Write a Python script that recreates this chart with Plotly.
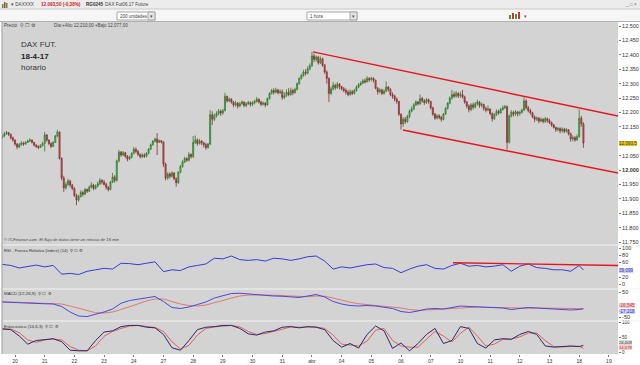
import plotly.graph_objects as go

# ---------------- DATA ----------------
day_tick_labels = ["20", "21", "22", "23", "24", "27", "28", "29", "30", "31", "abr",
                   "04", "05", "06", "07", "10", "11", "12", "13", "18", "19"]
bars_per_day = 14
first_bar = -6          # last bars of 17 mar
first_open = 12112

close_px = [
    # 17 mar
    12118, 12126, 12130, 12124, 12112, 12104,
    # 20 mar
    12090, 12080, 12088, 12094, 12090, 12096, 12100, 12104, 12096, 12086, 12082, 12078, 12084, 12092,
    # 21 mar
    12122, 12104, 12092, 12082, 12096, 12118, 12132, 12040, 11972, 11938, 11950, 11962, 11948, 11936,
    # 22 mar
    11912, 11896, 11908, 11922, 11916, 11932, 11926, 11940, 11948, 11936, 11944, 11952, 11964, 11958,
    # 23 mar
    11950, 11940, 11932, 11958, 11976, 11964, 12032, 12062, 12052, 12060, 12048, 12038, 12044, 12058,
    # 24 mar
    12072, 12064, 12054, 12046, 12052, 12048, 12058, 12072, 12088, 12100, 12108, 12096, 12102, 12098,
    # 27 mar
    12020, 11972, 11986, 11978, 11990, 11970, 11956, 11992, 12012, 12028, 12040, 12034, 12054, 12046,
    # 28 mar
    12096, 12104, 12092, 12100, 12094, 12088, 12078, 12090, 12192, 12176, 12188, 12196, 12204, 12198,
    # 29 mar
    12206, 12256, 12240, 12246, 12236, 12226, 12232, 12222, 12230, 12236, 12224, 12230, 12234, 12228,
    # 30 mar
    12234, 12238, 12246, 12236, 12228, 12232, 12226, 12248, 12266, 12276, 12270, 12278, 12268, 12272,
    # 31 mar
    12252, 12258, 12270, 12262, 12276, 12268, 12280, 12300, 12318, 12328, 12340, 12336, 12352, 12362,
    # 03 abr
    12396, 12384, 12392, 12372, 12386, 12364, 12340, 12318, 12266, 12282, 12294, 12286, 12298, 12290,
    # 04 abr
    12282, 12276, 12270, 12262, 12272, 12266, 12276, 12288, 12296, 12302, 12310, 12306, 12318, 12314,
    # 05 abr
    12318, 12312, 12284, 12272, 12278, 12266, 12274, 12288, 12280, 12262, 12256, 12246, 12238, 12194,
    # 06 abr
    12160, 12176, 12168, 12186, 12204, 12212, 12226, 12236, 12230, 12248, 12240, 12234, 12244, 12238,
    # 07 abr
    12216, 12194, 12180, 12188, 12182, 12176, 12194, 12214, 12232, 12250, 12262, 12256, 12266, 12258,
    # 10 abr
    12262, 12254, 12236, 12222, 12210, 12226, 12218, 12230, 12236, 12224, 12228, 12214, 12208, 12212,
    # 11 abr
    12196, 12178, 12192, 12204, 12198, 12210, 12216, 12220, 12096, 12188, 12200, 12194, 12202, 12196,
    # 12 abr
    12200, 12208, 12240, 12216, 12206, 12198, 12184, 12176, 12180, 12170, 12176, 12168, 12178, 12172,
    # 13 abr
    12164, 12156, 12148, 12140, 12144, 12136, 12142, 12134, 12140, 12126, 12108, 12112, 12104, 12116,
    # 18 abr
    12180, 12160, 12093.5,
]

high_px = [
    12124, 12132, 12136, 12132, 12126, 12116,
    12106, 12094, 12094, 12100, 12098, 12100, 12106, 12110, 12106, 12098, 12090, 12086, 12090, 12098,
    12132, 12124, 12106, 12096, 12100, 12122, 12140, 12134, 12044, 11980, 11958, 11970, 11966, 11952,
    11940, 11918, 11914, 11930, 11928, 11938, 11936, 11946, 11958, 11952, 11950, 11960, 11972, 11968,
    11966, 11956, 11944, 11962, 11990, 11982, 12036, 12070, 12066, 12066, 12062, 12052, 12050, 12062,
    12080, 12078, 12070, 12058, 12058, 12058, 12062, 12076, 12092, 12104, 12112, 12128, 12106, 12104,
    12098, 12026, 11992, 11992, 11996, 11992, 11974, 11996, 12018, 12034, 12046, 12044, 12062, 12058,
    12118, 12120, 12110, 12108, 12104, 12098, 12094, 12094, 12208, 12204, 12196, 12204, 12212, 12210,
    12212, 12268, 12258, 12252, 12250, 12240, 12240, 12236, 12236, 12242, 12238, 12236, 12240, 12238,
    12240, 12244, 12254, 12248, 12240, 12238, 12236, 12252, 12270, 12282, 12284, 12286, 12282, 12280,
    12280, 12270, 12280, 12284, 12286, 12282, 12286, 12304, 12322, 12334, 12348, 12350, 12360, 12370,
    12410, 12404, 12398, 12396, 12394, 12390, 12368, 12346, 12322, 12290, 12306, 12300, 12306, 12302,
    12292, 12288, 12284, 12278, 12280, 12278, 12282, 12294, 12302, 12308, 12316, 12318, 12326, 12322,
    12324, 12322, 12314, 12288, 12284, 12282, 12280, 12308, 12292, 12284, 12270, 12262, 12252, 12240,
    12196, 12184, 12184, 12192, 12210, 12220, 12232, 12242, 12240, 12262, 12254, 12246, 12250, 12248,
    12240, 12220, 12198, 12194, 12194, 12188, 12198, 12218, 12236, 12256, 12278, 12272, 12274, 12270,
    12272, 12278, 12258, 12240, 12228, 12232, 12234, 12236, 12244, 12240, 12234, 12230, 12220, 12224,
    12214, 12200, 12198, 12210, 12210, 12216, 12224, 12226, 12224, 12192, 12208, 12206, 12208, 12204,
    12206, 12214, 12252, 12246, 12222, 12212, 12202, 12190, 12186, 12184, 12182, 12180, 12184, 12182,
    12178, 12168, 12160, 12150, 12150, 12148, 12148, 12146, 12146, 12142, 12130, 12120, 12118, 12124,
    12210, 12188, 12166,
]

low_px = [
    12108, 12114, 12122, 12118, 12106, 12098,
    12084, 12072, 12076, 12084, 12084, 12088, 12094, 12098, 12092, 12082, 12076, 12072, 12076, 12082,
    12064, 12098, 12086, 12076, 12080, 12094, 12114, 12036, 11964, 11924, 11932, 11944, 11940, 11930,
    11906, 11878, 11890, 11904, 11908, 11914, 11920, 11924, 11936, 11930, 11932, 11940, 11948, 11950,
    11946, 11932, 11926, 11930, 11954, 11956, 11960, 12026, 12046, 12048, 12042, 12030, 12034, 12040,
    12054, 12058, 12048, 12040, 12042, 12042, 12044, 12054, 12070, 12084, 12096, 12052, 12094, 12092,
    12010, 11964, 11966, 11970, 11974, 11964, 11942, 11952, 11988, 12008, 12024, 12028, 12030, 12040,
    12042, 12090, 12084, 12088, 12086, 12078, 12070, 12074, 12086, 12156, 12170, 12182, 12190, 12188,
    12192, 12204, 12234, 12236, 12230, 12218, 12220, 12214, 12218, 12226, 12218, 12218, 12226, 12220,
    12222, 12228, 12234, 12230, 12222, 12224, 12218, 12224, 12244, 12262, 12262, 12266, 12262, 12264,
    12244, 12246, 12254, 12256, 12258, 12260, 12266, 12276, 12296, 12314, 12324, 12328, 12332, 12346,
    12358, 12374, 12376, 12366, 12368, 12358, 12334, 12300, 12236, 12260, 12276, 12278, 12282, 12280,
    12276, 12270, 12262, 12256, 12258, 12260, 12262, 12272, 12284, 12292, 12298, 12300, 12304, 12306,
    12308, 12304, 12280, 12262, 12266, 12260, 12262, 12270, 12272, 12256, 12248, 12238, 12230, 12188,
    12140, 12150, 12160, 12164, 12180, 12200, 12208, 12222, 12224, 12226, 12234, 12226, 12230, 12230,
    12210, 12188, 12174, 12176, 12176, 12168, 12172, 12192, 12210, 12228, 12244, 12250, 12252, 12250,
    12250, 12248, 12230, 12214, 12200, 12204, 12210, 12214, 12224, 12216, 12218, 12206, 12200, 12204,
    12190, 12168, 12174, 12188, 12192, 12196, 12206, 12212, 12070, 12092, 12182, 12186, 12188, 12186,
    12188, 12196, 12204, 12210, 12200, 12192, 12180, 12166, 12170, 12162, 12166, 12162, 12164, 12164,
    12160, 12150, 12144, 12132, 12134, 12128, 12130, 12128, 12130, 12120, 12098, 12100, 12098, 12102,
    12112, 12150, 12077,
]

# indicator readings, one every 4 hourly bars (last one = last bar)
ind_bars = list(range(-6, 267, 4)) + [268]

rsi_vals = [55, 52, 45, 50, 53, 48, 52, 28, 30, 27, 36, 40, 44, 42, 58, 57, 54, 58, 62, 35,
            40, 38, 48, 52, 56, 72, 70, 78, 68, 66, 68, 64, 72, 70, 66, 70, 76, 78, 64, 42,
            48, 45, 50, 54, 56, 46, 44, 32, 42, 50, 54, 44, 42, 52, 58, 50, 52, 48, 50, 54,
            36, 50, 56, 46, 44, 40, 40, 36, 52, 39.099]

macd_vals = [10, 8, 6, 5, 4, 3, 2, -8, -30, -46, -48, -40, -30, -18, 5, 16, 22, 28, 32, 12,
             -12, -16, -10, 0, 10, 26, 36, 44, 45, 42, 38, 36, 34, 33, 30, 28, 34, 40, 30, 12,
             2, -4, -6, -4, -6, -10, -16, -28, -32, -26, -18, -16, -18, -12, -6, -8, -10, -12, -14, -14,
             -20, -16, -12, -14, -16, -18, -20, -22, -20, -17.218]

signal_vals = [11, 10, 9, 8, 7, 6, 5, 2, -6, -16, -26, -33, -34, -30, -20, -8, 4, 14, 22, 22,
               12, 2, -4, -6, -2, 6, 16, 26, 34, 38, 39, 38, 37, 35, 33, 31, 31, 34, 33, 26,
               17, 9, 3, 0, -2, -5, -8, -14, -20, -23, -22, -20, -19, -17, -13, -11, -10, -11, -12, -13,
               -15, -16, -15, -14, -15, -16, -17, -18, -18, -16.545]

stoch_k = [78, 76, 55, 28, 40, 44, 46, 36, 8, 6, 6, 40, 68, 72, 86, 90, 90, 84, 82, 60,
           16, 8, 40, 76, 84, 86, 90, 90, 80, 62, 58, 68, 72, 84, 86, 82, 86, 84, 76, 40,
           18, 30, 15, 60, 88, 72, 14, 32, 6, 30, 60, 80, 30, 40, 86, 80, 30, 15, 42, 46,
           44, 60, 70, 60, 22, 18, 20, 22, 20, 24.009]

stoch_d = [80, 78, 66, 42, 34, 42, 45, 42, 20, 8, 6, 22, 54, 70, 80, 88, 90, 87, 83, 70,
           36, 12, 24, 58, 80, 85, 88, 90, 85, 70, 60, 63, 70, 78, 85, 84, 84, 85, 80, 58,
           28, 24, 22, 38, 74, 80, 40, 22, 18, 18, 45, 70, 55, 35, 64, 84, 55, 22, 28, 44,
           45, 52, 65, 65, 40, 20, 19, 21, 21, 14.678]

# hand-drawn trend lines (bar index, value)
chan_upper_bars, chan_upper_px = [140.5, 285.2], [12410, 12186]
chan_lower_bars, chan_lower_px = [182.9, 285.2], [12139, 11988]
rsi_trend_bars, rsi_trend_vals = [206.5, 285.2], [59.5, 51.8]

last_price_text = "12.093,5"
# ---------------------------------------

n = len(close_px)
assert len(high_px) == n and len(low_px) == n, (len(close_px), len(high_px), len(low_px))
for arr in (rsi_vals, macd_vals, signal_vals, stoch_k, stoch_d):
    assert len(arr) == len(ind_bars), (len(arr), len(ind_bars))

bar_x = list(range(first_bar, first_bar + n))
open_px = [first_open] + close_px[:-1]
tick_bars = [k * bars_per_day for k in range(len(day_tick_labels))]

W, H = 640, 365
ML, MR, MT, MB = 2, 22, 22, 11
PW, PH = W - ML - MR, H - MT - MB


def px(x):
    return (x - ML) / PW


def py(y):
    return (H - MB - y) / PH


BG = "#d3d3d3"
FONT = "Liberation Sans"
AX_FONT = dict(family=FONT, size=5.5, color="#333333")

fig = go.Figure()

fig.add_trace(go.Candlestick(
    x=bar_x, open=open_px, high=high_px, low=low_px, close=close_px,
    increasing=dict(line=dict(color="#2f7d2f", width=0.8), fillcolor="#62c462"),
    decreasing=dict(line=dict(color="#8a2e2e", width=0.8), fillcolor="#cc5c5c"),
    whiskerwidth=0, xaxis="x", yaxis="y", showlegend=False, hoverinfo="skip"))

for bx, by in ((chan_upper_bars, chan_upper_px), (chan_lower_bars, chan_lower_px)):
    fig.add_trace(go.Scatter(x=bx, y=by, mode="lines", line=dict(color="#e8141c", width=1.4),
                             xaxis="x", yaxis="y", showlegend=False, hoverinfo="skip"))

fig.add_trace(go.Scatter(x=ind_bars, y=rsi_vals, mode="lines", line=dict(color="#3a3ad6", width=1),
                         xaxis="x", yaxis="y2", showlegend=False, hoverinfo="skip"))
fig.add_trace(go.Scatter(x=rsi_trend_bars, y=rsi_trend_vals, mode="lines",
                         line=dict(color="#e8141c", width=1.4),
                         xaxis="x", yaxis="y2", showlegend=False, hoverinfo="skip"))

fig.add_trace(go.Scatter(x=ind_bars, y=signal_vals, mode="lines", line=dict(color="#e07a6a", width=1),
                         xaxis="x", yaxis="y3", showlegend=False, hoverinfo="skip"))
fig.add_trace(go.Scatter(x=ind_bars, y=macd_vals, mode="lines", line=dict(color="#4848e0", width=1),
                         xaxis="x", yaxis="y3", showlegend=False, hoverinfo="skip"))

fig.add_trace(go.Scatter(x=ind_bars, y=stoch_d, mode="lines", line=dict(color="#e06060", width=1),
                         xaxis="x", yaxis="y4", showlegend=False, hoverinfo="skip"))
fig.add_trace(go.Scatter(x=ind_bars, y=stoch_k, mode="lines", line=dict(color="#2a2a6a", width=1),
                         xaxis="x", yaxis="y4", showlegend=False, hoverinfo="skip"))

# panel layout (pixel rows converted to paper fractions)
d_main = [py(245), 1]
d_rsi = [py(289), py(245)]
d_macd = [py(321), py(289)]
d_sto = [0, py(321)]

price_ticks = [v for v in range(11750, 12501, 50) if v != 12100]   # 12.100 hidden by price box
price_text = []
for v in price_ticks:
    s = f"{v:,}".replace(",", ".")
    price_text.append(f"<b>{s}</b>" if v == 12000 else s)

yax_common = dict(side="right", anchor="x", showgrid=False, zeroline=False, ticks="outside",
                  ticklen=2, tickcolor="#777777", showline=False, fixedrange=True)

fig.update_layout(
    width=W, height=H,
    margin=dict(l=ML, r=MR, t=MT, b=MB),
    paper_bgcolor="white", plot_bgcolor=BG,
    xaxis=dict(domain=[0, 1], anchor="y4", range=[-6.13, 284.3], showgrid=False, zeroline=False,
               tickmode="array", tickvals=tick_bars, ticktext=day_tick_labels,
               ticks="outside", ticklen=2, tickcolor="#777777",
               tickfont=dict(family=FONT, size=5, color="#333333"),
               rangeslider=dict(visible=False), fixedrange=True),
    yaxis=dict(domain=d_main, range=[11739.6, 12513.9], tickmode="array", tickfont=AX_FONT,
               tickvals=price_ticks, ticktext=price_text, **yax_common),
    yaxis2=dict(domain=d_rsi, range=[-12.9, 108.3], tickmode="array", tickfont=AX_FONT,
                tickvals=[0, 20, 60, 80, 100], ticktext=["0", "20", "60", "80", "100"], **yax_common),
    yaxis3=dict(domain=d_macd, range=[-66, 62], tickmode="array", tickfont=AX_FONT,
                tickvals=[-50, 50], ticktext=["-50", "50"], **yax_common),
    yaxis4=dict(domain=d_sto, range=[-4.6, 104.6], tickmode="array",
                tickfont=dict(family=FONT, size=4.6, color="#333333"),
                tickvals=[0, 50, 100], ticktext=["0", "50", "100"], **yax_common),
    font=dict(family=FONT, size=5.5, color="#333333"),
)

shapes = []
# title bar and toolbar chrome
shapes.append(dict(type="rect", xref="paper", yref="paper", x0=px(0), x1=px(W), y0=py(9), y1=py(0),
                   fillcolor="#ececec", line=dict(width=0), layer="below"))
shapes.append(dict(type="rect", xref="paper", yref="paper", x0=px(0), x1=px(W), y0=py(21), y1=py(9),
                   fillcolor="#f6f6f6", line=dict(width=0), layer="below"))
shapes.append(dict(type="line", xref="paper", yref="paper", x0=px(0), x1=px(W), y0=py(9), y1=py(9),
                   line=dict(color="#c8c8c8", width=1)))
shapes.append(dict(type="line", xref="paper", yref="paper", x0=px(0), x1=px(W), y0=py(21.5), y1=py(21.5),
                   line=dict(color="#b0b0b0", width=1)))
# dropdowns
for x0, x1 in ((117, 155), (307, 357)):
    shapes.append(dict(type="rect", xref="paper", yref="paper", x0=px(x0), x1=px(x1), y0=py(20), y1=py(12),
                       fillcolor="white", line=dict(color="#a8a8a8", width=1)))
    shapes.append(dict(type="rect", xref="paper", yref="paper", x0=px(x1 - 7), x1=px(x1), y0=py(20), y1=py(12),
                       fillcolor="#e4e4e4", line=dict(color="#a8a8a8", width=1)))
# chart-type icon
for (x0, x1, y0, y1, c) in ((509, 511, 19, 15, "#3a9a3a"), (512, 514, 19, 13, "#d03030"),
                            (515, 517, 19, 14, "#3a9a3a"), (518, 520, 19, 12, "#d03030")):
    shapes.append(dict(type="rect", xref="paper", yref="paper", x0=px(x0), x1=px(x1), y0=py(y0), y1=py(y1),
                       fillcolor=c, line=dict(width=0)))
# app icon
for (x0, x1, y0, y1, c) in ((2, 3.5, 8, 4, "#3a9a3a"), (4, 5.5, 8, 2, "#d03030"), (6, 7.5, 8, 3, "#3a9a3a")):
    shapes.append(dict(type="rect", xref="paper", yref="paper", x0=px(x0), x1=px(x1), y0=py(y0), y1=py(y1),
                       fillcolor=c, line=dict(width=0)))
# panel separators
for yy in (245, 289, 321):
    shapes.append(dict(type="line", xref="paper", yref="paper", x0=px(0), x1=px(W), y0=py(yy), y1=py(yy),
                       line=dict(color="#f4f4f4", width=1.2)))
shapes.append(dict(type="line", xref="paper", yref="paper", x0=px(2), x1=px(2), y0=py(354), y1=py(22),
                   line=dict(color="#9a9a9a", width=1)))
fig.update_layout(shapes=shapes)

ann = []


def txt(x, y, s, size=5, color="#333333", bold=False, italic=False, anchor="left", **kw):
    if bold:
        s = f"<b>{s}</b>"
    if italic:
        s = f"<i>{s}</i>"
    ann.append(dict(xref="paper", yref="paper", x=px(x), y=py(y), text=s, showarrow=False,
                    xanchor=anchor, yanchor="middle", borderpad=0,
                    font=dict(family=FONT, size=size, color=color), **kw))


txt(10, 4.5, "▾ DAXXXX", size=4.6, color="#444444")
txt(40, 4.5, "12.093,50 (-0,38%)", size=4.6, color="#cc1f1f", bold=True)
txt(85, 4.5, "RG0245", size=4.6, color="#333333", bold=True)
txt(104, 4.5, "DAX Fut06.17 Future", size=4.6, color="#444444")
txt(638, 4.5, "_ □ ×", size=4.6, color="#777777", anchor="right")
txt(119, 16, "200 unidades", size=4.5, color="#444444")
txt(151.5, 16, "▾", size=4.5, color="#555555", anchor="center")
txt(309, 16, "1 hora", size=4.5, color="#444444")
txt(353.5, 16, "▾", size=4.5, color="#555555", anchor="center")
txt(525, 16, "▾", size=4.5, color="#555555", anchor="center")

txt(3, 25.5, "Precio", size=4.6, color="#444444")
txt(19, 25.5, "⚲ ☐ ⚙", size=4.5, color="#444444")
txt(53, 25.5, "Dia:+Alto 12.210,00 +Bajo 12.077,00", size=4.5, color="#444444")

txt(20, 45, "DAX FUT.", size=8, color="#333333")
txt(20, 56, "18-4-17", size=8, color="#222222", bold=True)
txt(20, 67, "horario", size=8, color="#333333")

txt(3, 240, "© IT-Finance.com  El flujo de datos tiene un retraso de 15 min", size=4.2, color="#444444",
    italic=True)
txt(3, 250.5, "RSI - Fuerza Relativa (índice) (14)  ⚲ ☐ ⚙", size=4.2, color="#333333")
txt(3, 293.5, "MACD (12,26,9)  ⚲ ☐ ⚙", size=4.4, color="#333333")
txt(3, 326.5, "Estocástico (14,6,3)  ⚲ ☐ ⚙", size=4.4, color="#333333")


def box(yref, y, s, bg, fg, yshift=0, size=4.6):
    ann.append(dict(xref="paper", yref=yref, x=1.0, y=y, text=s, showarrow=False, xanchor="left",
                    yanchor="middle", bgcolor=bg, borderpad=0, borderwidth=0, xshift=1, yshift=yshift,
                    font=dict(family=FONT, size=size, color=fg)))


box("y", close_px[-1], last_price_text, "#e6c619", "#333333")
box("y2", rsi_vals[-1], "39,099", "#cdcdf2", "#3535a8")
box("y3", signal_vals[-1], "-16,545", "#f3cccc", "#c03030", yshift=3.5)
box("y3", macd_vals[-1], "-17,218", "#cdcdf2", "#3535c0", yshift=-2.5)
box("y4", stoch_k[-1], "24,009", "#dcdcdc", "#333333", yshift=3, size=4.2)
box("y4", stoch_d[-1], "14,678", "#f3cccc", "#c03030", yshift=0.5, size=4.2)

fig.update_layout(annotations=ann)

# remove the browser's default 8px page margin so the 640x365 figure fills the window exactly
fig.write_html("out.html", config={"displayModeBar": False},
               post_script="document.body.style.margin='0px';")
